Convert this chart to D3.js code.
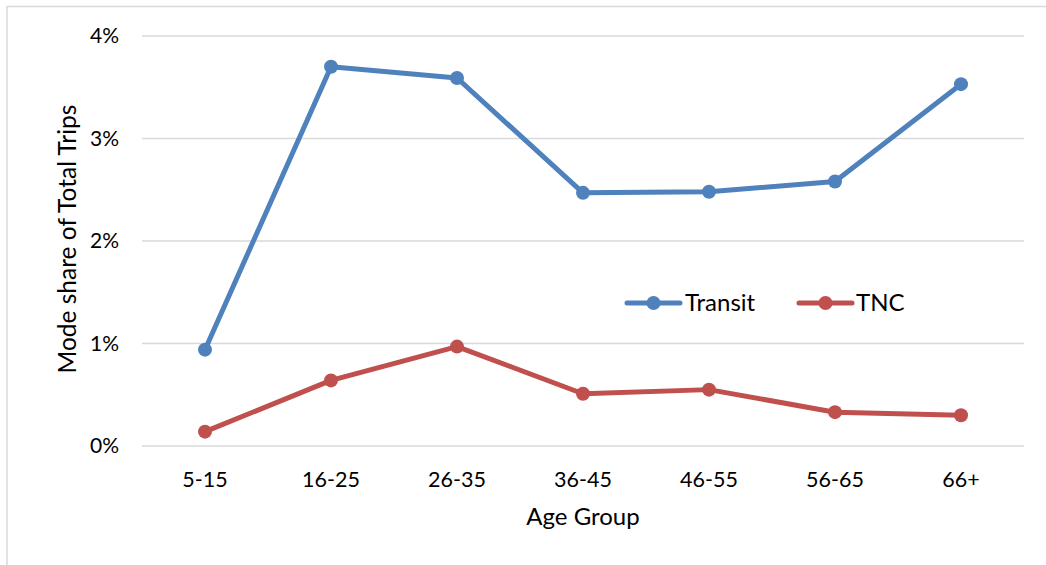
<!DOCTYPE html>
<html><head><meta charset="utf-8">
<script src="https://cdn.jsdelivr.net/npm/d3@7"></script>
<style>body{margin:0;background:#fff;} text{font-family:Lato,"Open Sans",sans-serif;fill:#000;}</style>
</head><body><svg id="c" width="1046" height="565"></svg>
<script>
const categories = ["5-15","16-25","26-35","36-45","46-55","56-65","66+"];
const transit = [0.94, 3.70, 3.59, 2.47, 2.48, 2.58, 3.53];
const tnc = [0.14, 0.64, 0.97, 0.51, 0.55, 0.33, 0.30];
const yTicks = [0, 1, 2, 3, 4];
const seriesNames = ["Transit", "TNC"];
const colors = ["#4f81bd", "#c0504d"];

const svg = d3.select("#c");
svg.append("rect").attr("x",7).attr("y",6.5).attr("width",1060).attr("height",570)
  .attr("fill","none").attr("stroke","#d9d9d9").attr("stroke-width",1.5);

const L=142, R=1024, T=36, B=446;
const x = d3.scaleBand().domain(categories).range([L,R]);
const y = d3.scaleLinear().domain([0,4]).range([B,T]);

svg.append("g").selectAll("line").data(yTicks).join("line")
  .attr("x1",L).attr("x2",R).attr("y1",d=>y(d)).attr("y2",d=>y(d))
  .attr("stroke","#d9d9d9").attr("stroke-width",1.5);

svg.append("g").selectAll("text").data(yTicks).join("text")
  .attr("x",119).attr("y",d=>y(d)).attr("dy","0.35em").attr("text-anchor","end")
  .attr("font-size",21).text(d=>d+"%");

svg.append("g").selectAll("text").data(categories).join("text")
  .attr("x",d=>x(d)+x.bandwidth()/2).attr("y",479).attr("dy","0.35em").attr("text-anchor","middle")
  .attr("font-size",21.5).text(d=>d);

svg.append("text").attr("x",583).attr("y",517).attr("dy","0.35em").attr("text-anchor","middle")
  .attr("font-size",24).text("Age Group");
svg.append("text").attr("transform","translate(67,239) rotate(-90)").attr("dy","0.35em").attr("text-anchor","middle")
  .attr("font-size",24.5).text("Mode share of Total Trips");

const cx = d => x(d)+x.bandwidth()/2;
const line = d3.line().x((d,i)=>cx(categories[i])).y(d=>y(d));
[transit, tnc].forEach((s,k)=>{
  svg.append("path").datum(s).attr("d",line).attr("fill","none").attr("stroke",colors[k])
    .attr("stroke-width",5).attr("stroke-linejoin","round").attr("stroke-linecap","round");
  svg.append("g").selectAll("circle").data(s).join("circle")
    .attr("cx",(d,i)=>cx(categories[i])).attr("cy",d=>y(d)).attr("r",7).attr("fill",colors[k]);
});

// legend
const lg = [{x:627,tx:685},{x:799,tx:856}];
seriesNames.forEach((n,k)=>{
  const g = svg.append("g");
  g.append("line").attr("x1",lg[k].x).attr("x2",lg[k].x+53).attr("y1",303).attr("y2",303)
    .attr("stroke",colors[k]).attr("stroke-width",5).attr("stroke-linecap","round");
  g.append("circle").attr("cx",lg[k].x+26.5).attr("cy",303).attr("r",7).attr("fill",colors[k]);
  g.append("text").attr("x",lg[k].tx).attr("y",303).attr("dy","0.35em").attr("font-size",24).text(n);
});
</script></body></html>
